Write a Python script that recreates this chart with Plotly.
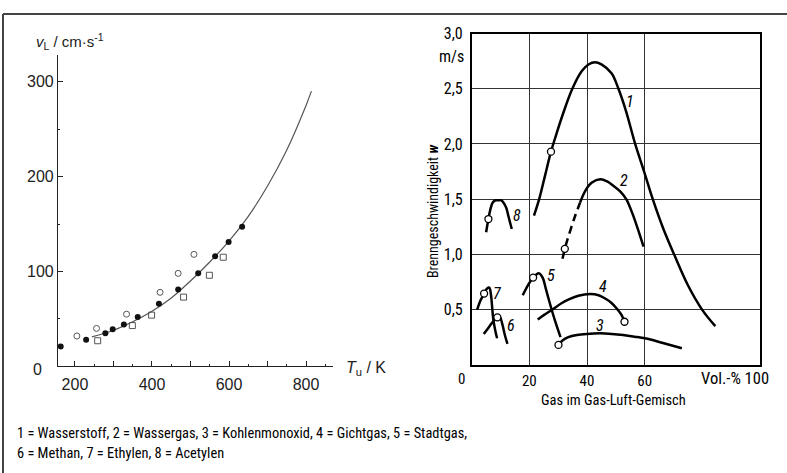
import plotly.graph_objects as go

W, H = 787, 473

# ---------------- left chart data ----------------
filled_T = [163, 229, 279, 298, 327, 363, 418, 468, 520, 564, 599, 634]
filled_v = [21, 28, 35, 39, 44, 52, 66, 81, 98, 116, 131, 147]
opencirc_T = [205, 256, 334, 421, 468, 509]
opencirc_v = [32, 40, 55, 78, 98, 118]
square_T = [259, 349, 399, 482, 549, 585]
square_v = [27, 43, 54, 73, 96, 115]
curve_T = [244, 300, 350, 400, 450, 500, 550, 600, 650, 700, 750, 800, 814]
curve_v = [31, 38, 47, 58, 72, 90, 110, 132, 158, 190, 228, 275, 290]
left_xticks = [200, 400, 600, 800]
left_xlabels = ["200", "400", "600", "800"]
left_xticks_unlabelled = [300, 500, 700]
left_yticks = [100, 200, 300]
left_ylabels = ["100", "200", "300"]

# ---------------- right chart data ----------------
c1_x = [21.6, 23.4, 25.5, 27.5, 29.5, 31.5, 34.9, 38.2, 40.5, 42.8, 45.0, 48.5, 50.9, 53.5, 56.7, 59.8, 62.8, 66.5, 70.2, 75.0, 79.9, 84.5]
c1_y = [1.35, 1.50, 1.72, 1.93, 2.10, 2.26, 2.50, 2.66, 2.72, 2.74, 2.72, 2.64, 2.50, 2.30, 2.00, 1.75, 1.50, 1.23, 1.00, 0.72, 0.50, 0.35]
c2_dash_x = [31.5, 32.3, 34.0, 35.9, 37.6]
c2_dash_y = [0.96, 1.05, 1.20, 1.35, 1.47]
c2_x = [37.6, 39.5, 41.7, 44.6, 47.0, 49.2, 51.5, 53.6, 55.6, 57.5, 59.6]
c2_y = [1.47, 1.58, 1.65, 1.68, 1.66, 1.62, 1.57, 1.50, 1.38, 1.24, 1.07]
c3_x = [30.1, 31.5, 33.5, 36.5, 39.9, 44.5, 48.6, 52.5, 56.5, 61.0, 66.0, 72.9]
c3_y = [0.18, 0.22, 0.25, 0.27, 0.28, 0.285, 0.28, 0.27, 0.255, 0.235, 0.20, 0.15]
c4_x = [22.9, 25.0, 28.0, 31.0, 33.5, 37.0, 41.1, 44.0, 46.3, 48.5, 50.3, 52.0, 53.0]
c4_y = [0.41, 0.45, 0.50, 0.555, 0.59, 0.625, 0.64, 0.63, 0.60, 0.56, 0.51, 0.45, 0.39]
c5_x = [17.7, 19.5, 21.3, 23.3, 24.6, 25.8, 27.4, 29.0, 30.8]
c5_y = [0.63, 0.72, 0.79, 0.83, 0.79, 0.68, 0.53, 0.39, 0.25]
c6_x = [4.2, 6.2, 8.0, 8.9, 9.8, 10.6, 11.5, 12.4]
c6_y = [0.28, 0.35, 0.41, 0.43, 0.43, 0.37, 0.27, 0.19]
c7_x = [1.9, 3.0, 4.3, 5.3, 6.1, 6.7, 7.1, 7.5, 8.1, 8.8]
c7_y = [0.50, 0.58, 0.645, 0.69, 0.70, 0.63, 0.52, 0.41, 0.32, 0.24]
c8_x = [5.0, 5.8, 6.5, 7.3, 8.3, 9.2, 10.2, 11.0, 12.0, 12.7, 13.9]
c8_y = [1.20, 1.32, 1.41, 1.47, 1.49, 1.49, 1.49, 1.47, 1.42, 1.35, 1.23]
mark_x = [27.5, 32.3, 30.1, 53.0, 21.3, 8.9, 4.3, 5.8]
mark_y = [1.93, 1.05, 0.18, 0.39, 0.79, 0.43, 0.645, 1.32]
label_text = ["1", "2", "3", "4", "5", "6", "7", "8"]
label_x = [55.0, 52.9, 44.5, 45.5, 27.5, 13.6, 8.9, 15.6]
label_y = [2.38, 1.67, 0.36, 0.71, 0.81, 0.36, 0.65, 1.35]
right_xticks = [20, 40, 60]
right_xlabels = ["20", "40", "60"]
right_yticks = [0.5, 1.0, 1.5, 2.0, 2.5, 3.0]
right_ylabels = ["0,5", "1,0", "1,5", "2,0", "2,5", "3,0"]
caption = ["1 = Wasserstoff, 2 = Wassergas, 3 = Kohlenmonoxid, 4 = Gichtgas, 5 = Stadtgas,",
           "6 = Methan, 7 = Ethylen, 8 = Acetylen"]

SANS = "Liberation Sans, Arial, sans-serif"
NARROW = ("Liberation Sans Narrow, Arial Narrow, Roboto Condensed, Noto Sans Condensed, "
          "Open Sans Condensed, DejaVu Sans Condensed, Liberation Sans, sans-serif")


def px(x):
    return x / W


def py(y):
    return 1 - y / H


fig = go.Figure()

# left chart
fig.add_trace(go.Scatter(x=curve_T, y=curve_v, mode="lines", line=dict(color="#555", width=1.2, shape="spline"),
                         xaxis="x", yaxis="y", showlegend=False))
fig.add_trace(go.Scatter(x=filled_T, y=filled_v, mode="markers",
                         marker=dict(symbol="circle", size=6, color="#111"), xaxis="x", yaxis="y", showlegend=False))
fig.add_trace(go.Scatter(x=opencirc_T, y=opencirc_v, mode="markers",
                         marker=dict(symbol="circle-open", size=6, color="#555", line=dict(width=1)),
                         xaxis="x", yaxis="y", showlegend=False))
fig.add_trace(go.Scatter(x=square_T, y=square_v, mode="markers",
                         marker=dict(symbol="square-open", size=6, color="#555", line=dict(width=1)),
                         xaxis="x", yaxis="y", showlegend=False))
# invisible trace so the overlaying tick-only axis is drawn
fig.add_trace(go.Scatter(x=[curve_T[0]], y=[curve_v[0]], mode="markers", marker=dict(size=1, opacity=0),
                         xaxis="x3", yaxis="y", showlegend=False, hoverinfo="skip"))

# right chart
for cx, cy in [(c1_x, c1_y), (c2_x, c2_y), (c3_x, c3_y), (c4_x, c4_y), (c5_x, c5_y),
               (c6_x, c6_y), (c7_x, c7_y), (c8_x, c8_y)]:
    fig.add_trace(go.Scatter(x=cx, y=cy, mode="lines", line=dict(color="#000", width=2.5, shape="spline"),
                             xaxis="x2", yaxis="y2", showlegend=False))
fig.add_trace(go.Scatter(x=c2_dash_x, y=c2_dash_y, mode="lines",
                         line=dict(color="#000", width=2.5, dash="8px,5px", shape="spline"),
                         xaxis="x2", yaxis="y2", showlegend=False))
fig.add_trace(go.Scatter(x=mark_x, y=mark_y, mode="markers",
                         marker=dict(symbol="circle", size=7, color="white", line=dict(color="#000", width=1.3)),
                         xaxis="x2", yaxis="y2", showlegend=False))

annotations = []
for t, lx, ly in zip(label_text, label_x, label_y):
    annotations.append(dict(x=lx, y=ly, xref="x2", yref="y2", text="<i>" + t + "</i>", showarrow=False,
                            font=dict(family=NARROW, size=16, color="#000")))

# left chart texts
annotations += [
    dict(x=px(34), y=py(33), xref="paper", yref="paper", xanchor="left", yanchor="middle", showarrow=False,
         text="<i>v</i><sub>L</sub> / cm·s<sup>-1</sup>", font=dict(family=SANS, size=15, color="#222")),
    dict(x=px(344), y=py(366), xref="paper", yref="paper", xanchor="left", yanchor="middle", showarrow=False,
         text="<i>T</i><sub>u</sub> / K", font=dict(family=SANS, size=16, color="#222")),
    dict(x=px(37), y=py(367), xref="paper", yref="paper", xanchor="center", yanchor="middle", showarrow=False,
         text="0", font=dict(family=SANS, size=16, color="#222")),
    # right chart texts
    dict(x=px(466), y=py(48), xref="paper", yref="paper", xanchor="right", yanchor="middle", showarrow=False,
         text="m/s", font=dict(family=NARROW, size=16, color="#000")),
    dict(x=px(433), y=py(207), xref="paper", yref="paper", xanchor="center", yanchor="middle", showarrow=False,
         textangle=-90, text="Brenngeschwindigkeit <i><b>w</b></i>", font=dict(family=NARROW, size=14, color="#000")),
    dict(x=px(613), y=py(399), xref="paper", yref="paper", xanchor="center", yanchor="middle", showarrow=False,
         text="Gas im Gas-Luft-Gemisch", font=dict(family=NARROW, size=14.5, color="#000")),
    dict(x=0, y=py(377), xref="x2", yref="paper", xanchor="center", yanchor="middle", xshift=-10, showarrow=False,
         text="0", font=dict(family=NARROW, size=15, color="#000")),
    dict(x=100, y=py(377), xref="x2", yref="paper", xanchor="right", yanchor="middle", xshift=11, showarrow=False,
         text="Vol.-% 100", font=dict(family=NARROW, size=16.5, color="#000")),
    # caption
    dict(x=px(15), y=py(433), xref="paper", yref="paper", xanchor="left", yanchor="middle", showarrow=False,
         text=caption[0], font=dict(family=NARROW, size=14.4, color="#000")),
    dict(x=px(15), y=py(453), xref="paper", yref="paper", xanchor="left", yanchor="middle", showarrow=False,
         text=caption[1], font=dict(family=NARROW, size=14.4, color="#000")),
]

shapes = [
    dict(type="line", xref="paper", yref="paper", x0=px(3), x1=1, y0=py(5), y1=py(5),
         line=dict(color="#444", width=2)),
    dict(type="line", xref="paper", yref="paper", x0=px(3), x1=px(3), y0=py(5), y1=0,
         line=dict(color="#444", width=2)),
]

fig.update_layout(
    width=W, height=H, margin=dict(l=0, r=0, t=0, b=0),
    paper_bgcolor="white", plot_bgcolor="white",
    xaxis=dict(domain=[px(58), px(333)], range=[156, 870], anchor="y",
               showline=True, linecolor="#222", linewidth=1.2, showgrid=False, zeroline=False,
               ticks="inside", ticklen=5, tickwidth=1, tickcolor="#222",
               tickvals=left_xticks, ticktext=left_xlabels, ticklabelstandoff=3,
               tickfont=dict(family=SANS, size=16, color="#222"),
               minor=dict(tickmode="linear", tick0=0, dtick=50, ticks="inside", ticklen=2, tickcolor="#222")),
    xaxis3=dict(overlaying="x", matches="x", anchor="y", side="bottom", range=[156, 870],
                showline=False, showgrid=False, zeroline=False, showticklabels=False,
                ticks="inside", ticklen=5, tickwidth=1, tickcolor="#222", tickvals=left_xticks_unlabelled),
    yaxis=dict(domain=[py(364.3), py(47)], range=[0, 328], anchor="x",
               showline=True, linecolor="#222", linewidth=1.2, showgrid=False, zeroline=False,
               ticks="inside", ticklen=5, tickwidth=1, tickcolor="#222",
               tickvals=left_yticks, ticktext=left_ylabels,
               tickfont=dict(family=SANS, size=16, color="#222"),
               minor=dict(tickmode="linear", tick0=0, dtick=50, ticks="inside", ticklen=2, tickcolor="#222")),
    xaxis2=dict(domain=[px(471.7), px(760)], range=[0, 100], anchor="y2",
                showline=True, mirror=True, linecolor="#000", linewidth=1.6,
                showgrid=True, gridcolor="#333", gridwidth=1, zeroline=False,
                ticks="", tickvals=right_xticks, ticktext=right_xlabels, ticklabelstandoff=1,
                tickfont=dict(family=NARROW, size=15, color="#000")),
    yaxis2=dict(domain=[py(362.7), py(25)], range=[0, 3], anchor="x2",
                showline=True, mirror=True, linecolor="#000", linewidth=1.6,
                showgrid=True, gridcolor="#333", gridwidth=1, zeroline=False,
                ticks="", tickvals=right_yticks, ticktext=right_ylabels, ticklabelstandoff=4,
                tickfont=dict(family=NARROW, size=16, color="#000")),
    annotations=annotations, shapes=shapes,
)

fig.write_html("out.html", config={"displayModeBar": False},
               post_script="document.body.style.margin='0';")
